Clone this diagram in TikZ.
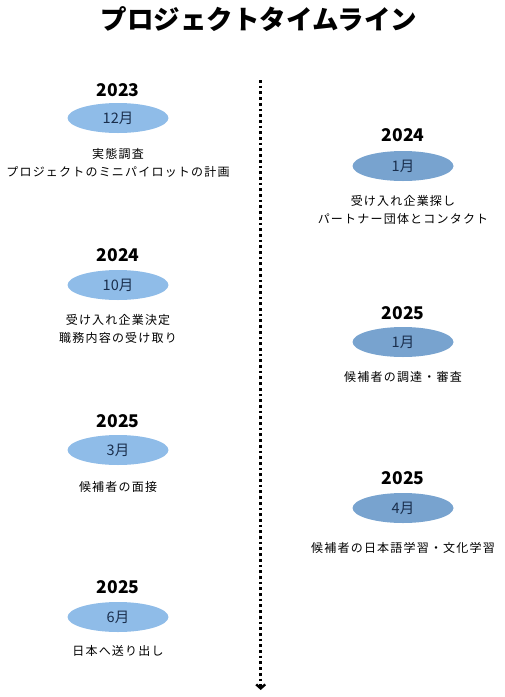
\documentclass[tikz,border=0pt]{standalone}
\usepackage{fontspec}
\setmainfont{Noto Sans CJK JP}
\newfontfamily\jpfont[LetterSpace=10]{Noto Sans CJK JP}
\newfontfamily\titlefont{Noto Sans CJK JP}
\usetikzlibrary{shapes.geometric,arrows.meta}

\definecolor{monthleft}{HTML}{8FBCE8}
\definecolor{monthright}{HTML}{78A3CF}
\definecolor{monthtext}{HTML}{1A2E4C}

\tikzset{
  yearlabel/.style={font=\bfseries\fontsize{17.5}{17.5}\selectfont},
  monthbox/.style={ellipse, minimum width=101pt, minimum height=30pt, inner sep=0pt,
    font=\fontsize{14.5}{14.5}\selectfont, text=monthtext},
  taskline/.style={align=center, font=\jpfont\fontsize{12}{18}\selectfont}
}

\begin{document}
\begin{tikzpicture}[x=1pt, y=-1pt]
			\useasboundingbox (0,0) rectangle (504,697);

			% Title
			\node[font=\titlefont\bfseries\fontsize{26.5}{26.5}\selectfont] (title) at (259,19) {プロジェクトタイムライン};

			% Draw the timeline
			\coordinate (start) at (260.7,80);
			\coordinate (end) at (260.7,690);
			\draw[line width=2.6pt, dash pattern=on 2.7pt off 3pt,
			  -{Straight Barb[length=4pt, width=9pt, line width=2.4pt]}] (start) -- (end);

			% Left side
			\node[yearlabel] (y2023dec) at (118,90) {2023};
			\node[monthbox, fill=monthleft] (m2023dec) at (118,118) {12月};
			\node[taskline] (t2023dec) at (118,163) {実態調査\\プロジェクトのミニパイロットの計画};

			\node[yearlabel] (y2024oct) at (118,255) {2024};
			\node[monthbox, fill=monthleft] (m2024oct) at (118,285) {10月};
			\node[taskline] (t2024oct) at (118,329) {受け入れ企業決定\\職務内容の受け取り};

			\node[yearlabel] (y2025mar) at (118,421) {2025};
			\node[monthbox, fill=monthleft] (m2025mar) at (118,450) {3月};
			\node[taskline] (t2025mar) at (118,487) {候補者の面接};

			\node[yearlabel] (y2025jun) at (118,587) {2025};
			\node[monthbox, fill=monthleft] (m2025jun) at (118,617) {6月};
			\node[taskline] (t2025jun) at (118,651) {日本へ送り出し};

			% Right side
			\node[yearlabel] (y2024jan) at (403,135) {2024};
			\node[monthbox, fill=monthright] (m2024jan) at (403,166) {1月};
			\node[taskline] (t2024jan) at (403,210) {受け入れ企業探し\\パートナー団体とコンタクト};

			\node[yearlabel] (y2025jan) at (403,313) {2025};
			\node[monthbox, fill=monthright] (m2025jan) at (403,342) {1月};
			\node[taskline] (t2025jan) at (403,377) {候補者の調達・審査};

			\node[yearlabel] (y2025apr) at (403,478) {2025};
			\node[monthbox, fill=monthright] (m2025apr) at (403,508) {4月};
			\node[taskline] (t2025apr) at (403,548) {候補者の日本語学習・文化学習};

\end{tikzpicture}
\end{document}
